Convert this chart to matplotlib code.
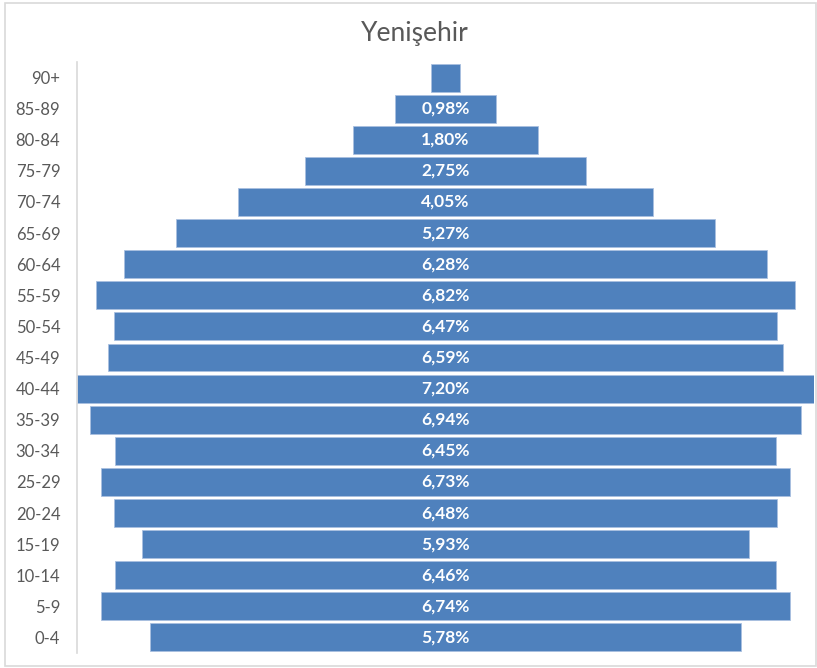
import matplotlib
matplotlib.use("Agg")
import matplotlib.pyplot as plt
from matplotlib.patches import Rectangle

categories = ["0-4", "5-9", "10-14", "15-19", "20-24", "25-29", "30-34", "35-39",
              "40-44", "45-49", "50-54", "55-59", "60-64", "65-69", "70-74",
              "75-79", "80-84", "85-89", "90+"]
values = [5.78, 6.74, 6.46, 5.93, 6.48, 6.73, 6.45, 6.94, 7.20, 6.59, 6.47,
          6.82, 6.28, 5.27, 4.05, 2.75, 1.80, 0.98, 0.28]
labels = ["5,78%", "6,74%", "6,46%", "5,93%", "6,48%", "6,73%", "6,45%", "6,94%",
          "7,20%", "6,59%", "6,47%", "6,82%", "6,28%", "5,27%", "4,05%",
          "2,75%", "1,80%", "0,98%", ""]

plt.rcParams['font.family'] = ['Lato', 'DejaVu Sans']

W, H = 817, 668
fig = plt.figure(figsize=(W / 100, H / 100), dpi=100)
fig.patch.set_facecolor("white")
fig.add_artist(Rectangle((4.5 / W, 2.5 / H), (W - 6) / W, (H - 5) / H,
                         transform=fig.transFigure, fill=False,
                         edgecolor="#d9d9d9", linewidth=1.2))

ax = fig.add_axes([77 / W, 1 - 653 / H, (814 - 77) / W, (653 - 62) / H])
bar_color = "#4f81bd"
y = list(range(len(categories)))
lefts = [-v / 2 for v in values]
ax.barh(y, values, left=lefts, height=0.9, color=bar_color,
        edgecolor="#a9c0e0", linewidth=0.6)
for yi, lab in zip(y, labels):
    if lab:
        ax.text(0, yi, lab, ha="center", va="center", color="white",
                fontsize=12.5, fontweight="bold")

vmax = max(values)
ax.set_xlim(-vmax / 2, vmax / 2)
ax.set_ylim(-0.5, len(categories) - 0.5)
ax.set_yticks(y)
ax.set_yticklabels(categories, fontsize=12, color="#595959")
ax.tick_params(axis="y", length=0, pad=12)
ax.set_xticks([])
for s in ["top", "right", "bottom"]:
    ax.spines[s].set_visible(False)
ax.spines["left"].set_color("#d9d9d9")
ax.spines["left"].set_linewidth(1.2)

fig.text(415 / W, 1 - 33 / H, "Yenişehir", ha="center", va="center",
         fontsize=19, color="#595959")

fig.savefig("out.png", dpi=100)
